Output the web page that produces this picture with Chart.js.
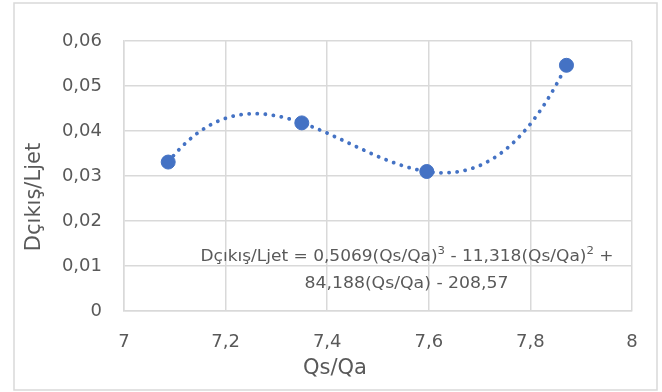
<!DOCTYPE html>
<html>
<head>
<meta charset="utf-8">
<script src="https://cdn.jsdelivr.net/npm/chart.js@4"></script>
<style>
  html, body { margin: 0; padding: 0; background: #ffffff; }
  canvas { display: block; }
</style>
</head>
<body>
<canvas id="chart" width="662" height="392"></canvas>
<script>
// Measured points: flow ratio vs. outlet diameter ratio
const qsQa = [7.087, 7.35, 7.596, 7.871];
const dLjet = [0.0331, 0.0418, 0.031, 0.0546];

// Axis ticks
const xTickValues = [7, 7.2, 7.4, 7.6, 7.8, 8];
const yTickValues = [0, 0.01, 0.02, 0.03, 0.04, 0.05, 0.06];

// Titles and the trendline equation label
const xTitle = 'Qs/Qa';
const yTitle = 'Dçıkış/Ljet';
const equationLine1 = [
  ['Dçıkış/Ljet = 0,5069(Qs/Qa)', false], ['3', true],
  [' - 11,318(Qs/Qa)', false], ['2', true], [' +', false]
];
const equationLine2 = [['84,188(Qs/Qa) - 208,57', false]];

const BLUE = '#4472C4';
const TEXT = '#595959';
const GRID = '#d9d9d9';
const FONT = '"DejaVu Sans", sans-serif';

// Least-squares polynomial trendline (degree 3), x centred for stability
function polyFit(xs, ys, deg) {
  const x0 = xs.reduce((a, b) => a + b, 0) / xs.length;
  const n = deg + 1;
  const A = Array.from({ length: n }, () => new Array(n + 1).fill(0));
  xs.forEach((xv, k) => {
    const t = xv - x0;
    for (let i = 0; i < n; i++) {
      for (let j = 0; j < n; j++) A[i][j] += Math.pow(t, i + j);
      A[i][n] += ys[k] * Math.pow(t, i);
    }
  });
  for (let c = 0; c < n; c++) {
    let p = c;
    for (let r = c + 1; r < n; r++) if (Math.abs(A[r][c]) > Math.abs(A[p][c])) p = r;
    [A[c], A[p]] = [A[p], A[c]];
    for (let r = 0; r < n; r++) {
      if (r === c) continue;
      const f = A[r][c] / A[c][c];
      for (let k = c; k <= n; k++) A[r][k] -= f * A[c][k];
    }
  }
  const coef = A.map((row, i) => row[n] / row[i]);
  return x => coef.reduce((s, cf, i) => s + cf * Math.pow(x - x0, i), 0);
}

const trend = polyFit(qsQa, dLjet, 3);
const xMin = Math.min(...qsQa), xMax = Math.max(...qsQa);
const trendPoints = [];
for (let i = 0; i <= 120; i++) {
  const x = xMin + (xMax - xMin) * i / 120;
  trendPoints.push({ x: x, y: trend(x) });
}

const fmt = v => String(v).replace('.', ',');

const frame = {
  id: 'frame',
  beforeDraw(chart) {
    const ctx = chart.ctx;
    ctx.save();
    ctx.fillStyle = '#ffffff';
    ctx.fillRect(0, 0, chart.width, chart.height);
    ctx.strokeStyle = GRID;
    ctx.lineWidth = 1.5;
    ctx.strokeRect(14, 3, 643, 387);
    ctx.restore();
  },
  afterDatasetsDraw(chart) {
    const ctx = chart.ctx;
    ctx.save();
    ctx.fillStyle = TEXT;
    ctx.textBaseline = 'middle';
    ctx.textAlign = 'center';

    // Axis titles, centred on the chart box
    ctx.font = '21px ' + FONT;
    ctx.fillText(xTitle, 335, 369);
    ctx.save();
    ctx.translate(35, 197);
    ctx.rotate(-Math.PI / 2);
    ctx.fillText(yTitle, 0, 0);
    ctx.restore();

    // Trendline equation, two centred lines
    const drawLine = (segs, cx, cy, width) => {
      const base = '16px ' + FONT, sup = '11px ' + FONT;
      let w = 0;
      segs.forEach(([t, s]) => { ctx.font = s ? sup : base; w += ctx.measureText(t).width; });
      const sx = width / w;
      ctx.save();
      ctx.translate(cx - width / 2, cy);
      ctx.scale(sx, 1);
      ctx.textAlign = 'left';
      let x = 0;
      segs.forEach(([t, s]) => {
        ctx.font = s ? sup : base;
        ctx.fillText(t, x, s ? -6 : 0);
        x += ctx.measureText(t).width;
      });
      ctx.restore();
    };
    drawLine(equationLine1, 407, 257, 413);
    drawLine(equationLine2, 406.5, 284, 204);
    ctx.restore();
  }
};

new Chart(document.getElementById('chart'), {
  type: 'scatter',
  data: {
    datasets: [
      {
        label: 'points',
        data: qsQa.map((x, i) => ({ x: x, y: dLjet[i] })),
        backgroundColor: BLUE,
        borderColor: BLUE,
        pointRadius: 7,
        pointHoverRadius: 7,
        order: 0
      },
      {
        label: 'trend',
        type: 'line',
        data: trendPoints,
        showLine: true,
        borderColor: BLUE,
        borderWidth: 3.8,
        borderDash: [0.1, 8],
        borderCapStyle: 'round',
        pointRadius: 0,
        tension: 0,
        fill: false,
        order: 1
      }
    ]
  },
  options: {
    responsive: false,
    animation: false,
    devicePixelRatio: 1,
    layout: { padding: { left: 0, right: 30, top: 41, bottom: 0 } },
    plugins: { legend: { display: false }, tooltip: { enabled: false } },
    scales: {
      x: {
        type: 'linear',
        min: 7, max: 8,
        afterBuildTicks: s => { s.ticks = xTickValues.map(v => ({ value: v })); },
        afterFit: s => { s.height = 81; },
        grid: { color: GRID, lineWidth: 1.5, drawTicks: false },
        border: { color: GRID, width: 1.5 },
        ticks: { color: TEXT, font: { family: FONT, size: 18 }, padding: 21, maxRotation: 0, callback: v => fmt(v) }
      },
      y: {
        type: 'linear',
        min: 0, max: 0.06,
        afterBuildTicks: s => { s.ticks = yTickValues.map(v => ({ value: v })); },
        afterFit: s => { s.width = 124; },
        grid: { color: GRID, lineWidth: 1.5, drawTicks: false },
        border: { color: GRID, width: 1.5 },
        ticks: { color: TEXT, font: { family: FONT, size: 18 }, padding: 22, callback: v => fmt(v) }
      }
    }
  },
  plugins: [frame]
});
</script>
</body>
</html>
